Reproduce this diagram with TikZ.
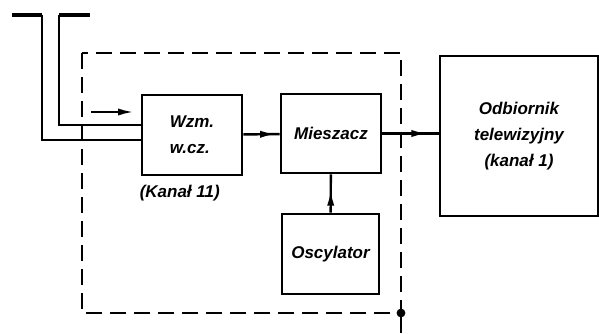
\documentclass[tikz,border=0pt]{standalone}
\usepackage{fontspec}
\newfontfamily\blockfont{Liberation Sans}
\usepackage{tikz}
\usetikzlibrary{arrows.meta,positioning,calc,decorations.markings}

\begin{document}
\begin{tikzpicture}[
        x=0.5pt, y=-0.5pt,
        node distance=2pt,
        % Boxes of the converter and the receiver
        box/.style={rectangle, draw, line width=1.3pt, fill=white,
            minimum width=#1, minimum height=40pt,
            align=center, font=\blockfont\bfseries\itshape\fontsize{8.5}{13}\selectfont},
        note/.style={font=\blockfont\bfseries\itshape\fontsize{8.5}{13}\selectfont},
        wire/.style={line width=1.2pt},
        aerial/.style={line width=2.3pt},
        tip/.style={-{Latex[length=8pt,width=3.6pt]}},
        midtip/.style={line width=1.2pt, postaction={decorate},
            decoration={markings, mark=at position #1 with {\arrow{Latex[length=8pt,width=3.6pt]}}}},
        frame/.style={line width=1.3pt, dash pattern=on 8pt off 4pt}
    ]
        \useasboundingbox (0,0) rectangle (599,333);

        \node[box=50pt, align=left] (wzm) at (192,135) {Wzm.\\w.cz.};
        \node[note, below=1pt of wzm.south west, anchor=north west, xshift=-4pt] (kanal) {(Kanał 11)};
        \node[box=50pt, minimum height=39.5pt] (mix) at (331,133.5) {Mieszacz};
        \node[box=48.5pt, minimum height=40pt] (osc) at (330.5,254) {Oscylator};
        \node[box=79pt, minimum height=80pt] (tv) at (519,136) {Odbiornik\\telewizyjny\\(kanał 1)};

        % Aerial
        \coordinate (antL) at (42,15);
        \coordinate (antR) at (59,15);
        \coordinate (sigA) at (91,112);
        \coordinate (sigB) at (134,112);
        \coordinate (gnd) at (401,313);
        \coordinate (gndEnd) at (401,333);
        \draw[aerial] (12,15) -- (antL);
        \draw[aerial] (antR) -- (90,15);
        \draw[wire] (antL) |- ($(wzm.west)+(0,5)$);
        \draw[wire] (antR) |- ($(wzm.west)+(0,-10)$);
        \draw[wire, tip] (sigA) -- (sigB);

        % Converter frame
        \draw[frame] (82,53) rectangle (gnd);
        \fill (gnd) circle (2.2pt);
        \draw[wire] (gnd) -- (gndEnd);

        % Connections
        \draw[midtip=0.9] (wzm) -- (mix);
        \draw[midtip=0.8] (mix) -- (mix -| tv.west);
        \draw[midtip=0.6] (osc) -- (mix);
    \end{tikzpicture}
\end{document}
